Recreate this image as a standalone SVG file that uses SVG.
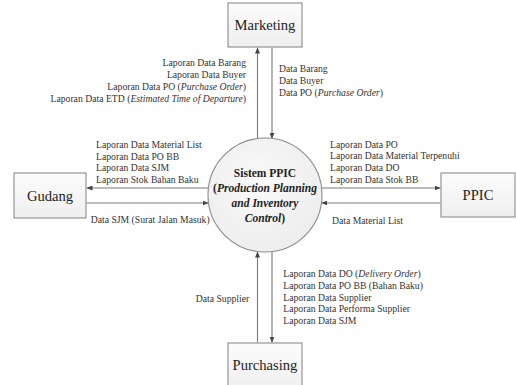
<svg xmlns="http://www.w3.org/2000/svg" width="516" height="385" viewBox="0 0 516 385">
  <defs>
    <linearGradient id="boxFill" x1="0" y1="0" x2="0" y2="1">
      <stop offset="0" stop-color="#fcfcfc"/>
      <stop offset="1" stop-color="#efefef"/>
    </linearGradient>
    <radialGradient id="procFill" cx="0.45" cy="0.4" r="0.7">
      <stop offset="0" stop-color="#fafafa"/>
      <stop offset="1" stop-color="#ebebeb"/>
    </radialGradient>
    <marker id="arrow" markerWidth="6" markerHeight="5" refX="6" refY="2.5" orient="auto" markerUnits="userSpaceOnUse">
      <path d="M0,0 L6,2.5 L0,5 Z" fill="#444"/>
    </marker>
    <style>
      text { font-family: 'Liberation Serif', Tinos, 'DejaVu Serif', serif; }
      .box { fill: url(#boxFill); stroke: #8c8c8c; stroke-width: 1.1; }
      .proc { fill: url(#procFill); stroke: #8c8c8c; stroke-width: 1.1; }
      .flow { stroke: #7a7a7a; stroke-width: 1.1; fill: none; marker-end: url(#arrow); }
      .name { font-size: 14.6px; fill: #222; text-anchor: middle; }
      .lbl { font-size: 9.7px; fill: #333; }
      .r { text-anchor: end; }
      .it { font-style: italic; }
      .core { font-size: 11.5px; font-weight: bold; fill: #222; text-anchor: middle; }
    </style>
  </defs>

  <!-- data flows -->
  <g id="connectors">
    <line class="flow" x1="257.5" y1="138.5" x2="257.5" y2="47.5"/>
    <line class="flow" x1="272" y1="47.5" x2="272" y2="138.8"/>
    <line class="flow" x1="208.5" y1="188" x2="86.5" y2="188"/>
    <line class="flow" x1="86.5" y1="203" x2="208.6" y2="203"/>
    <line class="flow" x1="321.5" y1="188" x2="440.5" y2="188"/>
    <line class="flow" x1="440.5" y1="203" x2="321.4" y2="203"/>
    <line class="flow" x1="257.5" y1="342.5" x2="257.5" y2="251.5"/>
    <line class="flow" x1="272" y1="251.2" x2="272" y2="342.5"/>
  </g>

  <!-- flow labels -->
  <g id="labels-marketing">
    <text class="lbl r" x="246" y="66">Laporan Data Barang</text>
    <text class="lbl r" x="246" y="78">Laporan Data Buyer</text>
    <text class="lbl r" x="246" y="90">Laporan Data PO (<tspan class="it">Purchase Order</tspan>)</text>
    <text class="lbl r" x="246" y="102">Laporan Data ETD (<tspan class="it">Estimated Time of Departure</tspan>)</text>
    <text class="lbl" x="279" y="72">Data Barang</text>
    <text class="lbl" x="279" y="84">Data Buyer</text>
    <text class="lbl" x="279" y="96">Data PO (<tspan class="it">Purchase Order</tspan>)</text>
  </g>
  <g id="labels-gudang">
    <text class="lbl" x="96" y="148">Laporan Data Material List</text>
    <text class="lbl" x="96" y="159.7">Laporan Data PO BB</text>
    <text class="lbl" x="96" y="171.4">Laporan Data SJM</text>
    <text class="lbl" x="96" y="183.1">Laporan Stok Bahan Baku</text>
    <text class="lbl" x="90.7" y="223">Data SJM (Surat Jalan Masuk)</text>
  </g>
  <g id="labels-ppic">
    <text class="lbl" x="330" y="147.5">Laporan Data PO</text>
    <text class="lbl" x="330" y="159.2">Laporan Data Material Terpenuhi</text>
    <text class="lbl" x="330" y="170.9">Laporan Data DO</text>
    <text class="lbl" x="330" y="182.6">Laporan Data Stok BB</text>
    <text class="lbl" x="332" y="223.5">Data Material List</text>
  </g>
  <g id="labels-purchasing">
    <text class="lbl" x="283.3" y="277.3">Laporan Data DO (<tspan class="it">Delivery Order</tspan>)</text>
    <text class="lbl" x="283.3" y="288.9">Laporan Data PO BB (Bahan Baku)</text>
    <text class="lbl" x="283.3" y="300.5">Laporan Data Supplier</text>
    <text class="lbl" x="283.3" y="312.1">Laporan Data Performa Supplier</text>
    <text class="lbl" x="283.3" y="323.7">Laporan Data SJM</text>
    <text class="lbl" x="195.7" y="302">Data Supplier</text>
  </g>

  <!-- external entities -->
  <g id="marketing">
    <rect class="box" x="228" y="3" width="74" height="44"/>
    <text class="name" x="265" y="29.5">Marketing</text>
  </g>
  <g id="gudang">
    <rect class="box" x="14" y="173" width="72" height="45"/>
    <text class="name" x="50" y="200.5">Gudang</text>
  </g>
  <g id="ppic">
    <rect class="box" x="441" y="173" width="74" height="44"/>
    <text class="name" x="478" y="200">PPIC</text>
  </g>
  <g id="purchasing">
    <rect class="box" x="228" y="343" width="74" height="50"/>
    <text class="name" x="265" y="369.5">Purchasing</text>
  </g>

  <!-- central process -->
  <g id="sistem-ppic">
    <circle class="proc" cx="265" cy="195" r="57"/>
    <text class="core" x="265" y="176.5">Sistem PPIC</text>
    <text class="core" x="265" y="192">(<tspan font-style="italic">Production Planning</tspan></text>
    <text class="core" x="265" y="207" font-style="italic">and Inventory</text>
    <text class="core" x="265" y="222"><tspan font-style="italic">Control</tspan>)</text>
  </g>
</svg>
